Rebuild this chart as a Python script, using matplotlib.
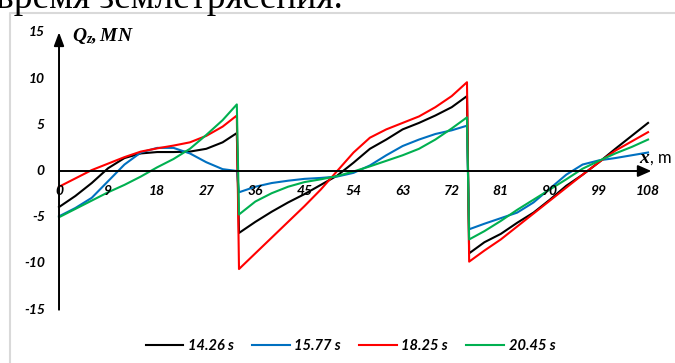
import numpy as np
import matplotlib
matplotlib.use('Agg')
import matplotlib.pyplot as plt

plt.rcParams['mathtext.fontset'] = 'custom'
plt.rcParams['mathtext.it'] = 'Liberation Serif:italic:bold'
plt.rcParams['mathtext.rm'] = 'Liberation Serif:italic:bold'

# positions along the structure, m (pairs at 32.6/33.0 and 74.8/75.2 are the jumps)
x = [0, 3, 6, 9, 12, 15, 18, 21, 24, 27, 30, 32.6,
     33.0, 36, 39, 42, 45, 48, 51, 54, 57, 60, 63, 66, 69, 72, 74.8,
     75.2, 78, 81, 84, 87, 90, 93, 96, 99, 102, 105, 108]

q_1426 = [-3.9, -2.7, -1.3, 0.3, 1.4, 1.9, 2.05, 2.05, 2.1, 2.4, 3.1, 4.1,
          -6.7, -5.5, -4.4, -3.4, -2.5, -1.5, -0.5, 0.9, 2.4, 3.4, 4.5, 5.2, 6.0, 6.9, 8.1,
          -8.9, -7.7, -6.8, -5.6, -4.5, -3.1, -1.6, -0.4, 0.95, 2.4, 3.8, 5.2]

q_1577 = [-4.9, -4.0, -2.9, -1.1, 0.7, 2.0, 2.5, 2.5, 1.9, 0.95, 0.2, 0.0,
          -2.3, -1.7, -1.3, -1.05, -0.85, -0.75, -0.6, -0.2, 0.6, 1.7, 2.7, 3.4, 4.0, 4.4, 4.9,
          -6.3, -5.7, -5.1, -4.5, -3.4, -1.9, -0.4, 0.7, 1.15, 1.4, 1.7, 2.0]

q_1825 = [-1.7, -0.8, 0.1, 0.8, 1.5, 2.1, 2.45, 2.75, 3.1, 3.8, 4.8, 6.0,
          -10.6, -8.9, -7.2, -5.5, -3.8, -2.0, 0.0, 2.0, 3.6, 4.5, 5.2, 5.9, 6.9, 8.1, 9.6,
          -9.8, -8.6, -7.4, -6.0, -4.6, -3.2, -1.8, -0.4, 0.95, 2.2, 3.2, 4.2]

q_2045 = [-5.0, -4.1, -3.2, -2.3, -1.5, -0.6, 0.4, 1.3, 2.4, 3.9, 5.5, 7.2,
          -4.7, -3.3, -2.4, -1.7, -1.2, -0.9, -0.55, -0.05, 0.5, 1.1, 1.7, 2.4, 3.4, 4.6, 5.8,
          -7.4, -6.5, -5.4, -4.2, -3.1, -2.0, -0.9, 0.25, 1.1, 1.9, 2.6, 3.4]

labels = ['14.26 s', '15.77 s', '18.25 s', '20.45 s']
colors = ['#000000', '#0070C0', '#FF0000', '#00B050']

x_ticks = [0, 9, 18, 27, 36, 45, 54, 63, 72, 81, 90, 99, 108]
y_ticks = [15, 10, 5, 0, -5, -10, -15]

fig = plt.figure(figsize=(6.75, 3.63), dpi=100)
ax = fig.add_axes([0, 0, 1, 1])
# data limits chosen so the whole canvas is the drawing area
ax.set_xlim(-10.82, 112.94)
ax.set_ylim(-20.76, 18.49)
ax.axis('off')

# chart frame
ax.plot([-9.0, -9.0, 113], [-21, 17.1, 17.1], color='#d9d9d9', lw=1.5, clip_on=False)

# axes with arrows
ax.annotate('', xy=(108.6, 0), xytext=(0, 0),
            arrowprops=dict(arrowstyle='-|>,head_length=0.8,head_width=0.35', color='black', lw=1.4,
                            shrinkA=0, shrinkB=0))
ax.annotate('', xy=(0, 15.0), xytext=(0, -15.0),
            arrowprops=dict(arrowstyle='-|>,head_length=0.8,head_width=0.3', color='black', lw=1.4,
                            shrinkA=0, shrinkB=0))

for ys, lab, c in zip([q_1426, q_1577, q_1825, q_2045], labels, colors):
    ax.plot(x, ys, color=c, lw=1.5, label=lab)

tick_font = dict(family='Lato', weight='bold', style='italic', size=10)
for v in x_ticks:
    ax.text(v, -2.2, str(v), ha='center', va='center', **tick_font)
for v in y_ticks:
    ax.text(-2.6, v, str(v), ha='right', va='center', **tick_font)

ax.text(2.4, 14.6, r'$Q_z, MN$', fontsize=14, ha='left', va='center')
ax.text(106.3, 1.4, 'x', family='Liberation Serif', style='italic', weight='bold',
        fontsize=14, ha='left', va='center')
ax.text(108.3, 1.5, ', m', family='Lato', fontsize=12, ha='left', va='center')

fig.text(-0.006, 1 - 8.5 / 363, 'время землетрясения.', family='Liberation Serif',
         fontsize=27, ha='left', va='baseline')

ax.legend(loc='center', bbox_to_anchor=(0.519, 0.047), ncol=4, frameon=False,
          handlelength=2.6, handletextpad=0.3, columnspacing=1.25,
          prop=dict(family='Lato', weight='bold', style='italic', size=10.5))

fig.savefig('out.png', dpi=100)
